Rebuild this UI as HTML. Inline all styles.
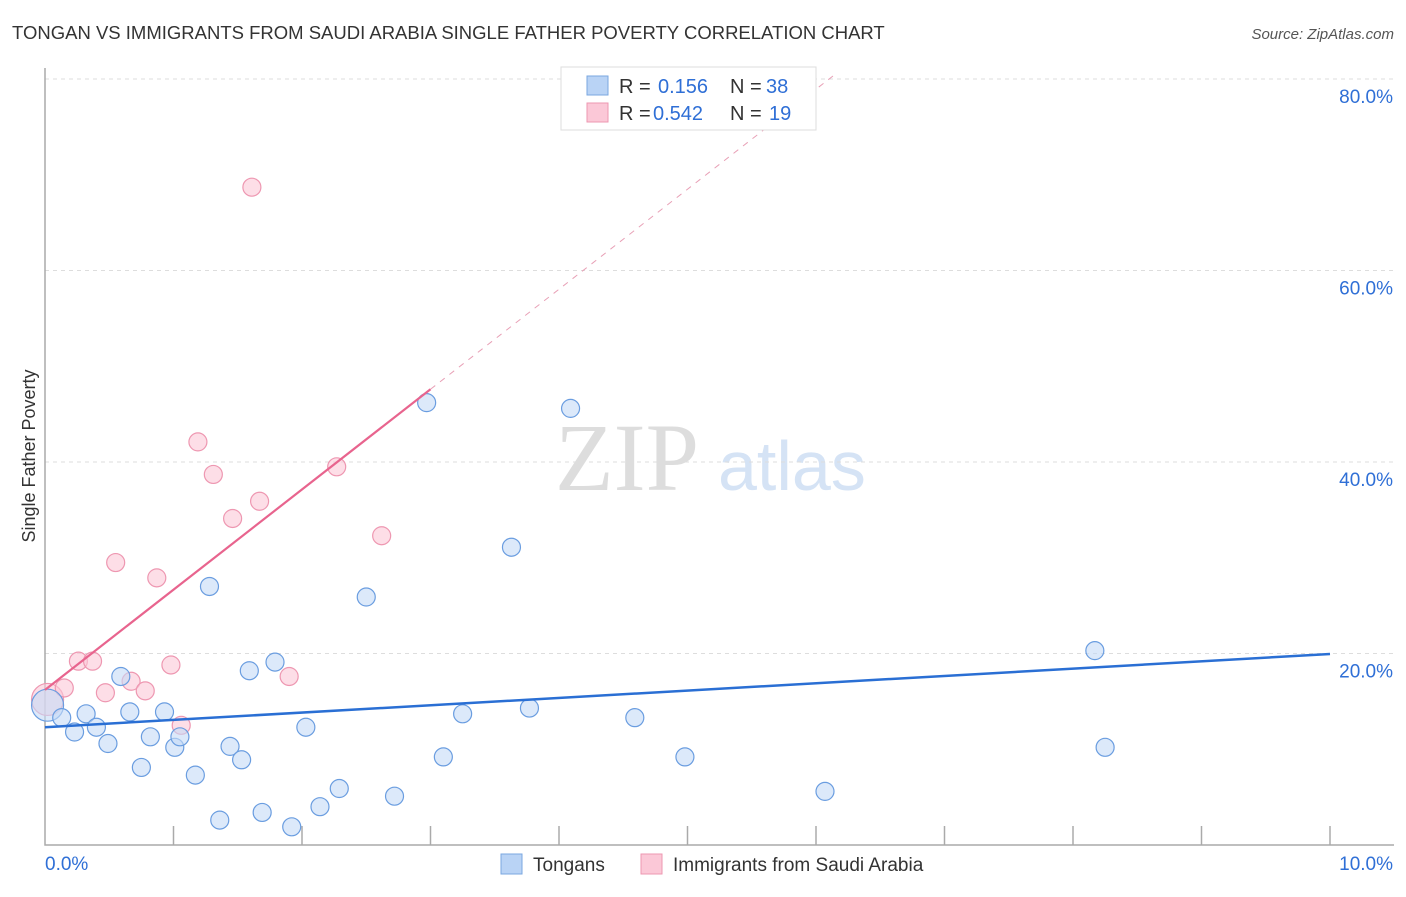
<!DOCTYPE html>
<html><head><meta charset="utf-8"><style>
body{margin:0;background:#fff;font-family:"Liberation Sans",sans-serif}
</style></head><body>
<svg id="c" width="1406" height="892" xmlns="http://www.w3.org/2000/svg">
<text x="12" y="39" font-size="18.5" fill="#333">TONGAN VS IMMIGRANTS FROM SAUDI ARABIA SINGLE FATHER POVERTY CORRELATION CHART</text>
<text x="1394" y="39" font-size="15" fill="#555" font-style="italic" text-anchor="end">Source: ZipAtlas.com</text>
<text x="35" y="456" font-size="18" fill="#333" text-anchor="middle" transform="rotate(-90 35 456)">Single Father Poverty</text>
<text x="555" y="490" font-size="96" fill="#ddd" font-family="Liberation Serif">ZIP</text>
<text x="718" y="490" font-size="70" fill="#d5e3f5">atlas</text>
<g id="grid"></g><g id="marks"></g>
<g>
<rect x="561" y="67" width="255" height="63" fill="#fff" stroke="#ddd"/>
<rect x="587" y="76" width="21" height="19" fill="#b9d3f5" stroke="#7aa7e0"/>
<rect x="587" y="103" width="21" height="19" fill="#fbc8d7" stroke="#ee97b1"/>
<text x="619" y="93" font-size="20" fill="#333">R = </text><text x="658" y="93" font-size="20" fill="#2f6fd6">0.156</text>
<text x="730" y="93" font-size="20" fill="#333">N = </text><text x="766" y="93" font-size="20" fill="#2f6fd6">38</text>
<text x="619" y="120" font-size="20" fill="#333">R = </text><text x="653" y="120" font-size="20" fill="#2f6fd6">0.542</text>
<text x="730" y="120" font-size="20" fill="#333">N = </text><text x="769" y="120" font-size="20" fill="#2f6fd6">19</text>
</g>
<g>
<rect x="501" y="854" width="21" height="20" fill="#b9d3f5" stroke="#7aa7e0"/>
<text x="533" y="871" font-size="19" fill="#333">Tongans</text>
<rect x="641" y="854" width="21" height="20" fill="#fbc8d7" stroke="#ee97b1"/>
<text x="673" y="871" font-size="19" fill="#333">Immigrants from Saudi Arabia</text>
</g>
</svg>
<script>
const blueX=[0.02,0.13,0.23,0.32,0.40,0.49,0.59,0.66,0.75,0.82,0.93,1.01,1.05,1.17,1.28,1.36,1.44,1.53,1.59,1.69,1.79,1.92,2.03,2.14,2.29,2.50,2.72,2.97,3.10,3.25,3.63,3.77,4.09,4.59,4.98,6.07,8.17,8.25];
const blueY=[14.6,13.3,11.8,13.7,12.3,10.6,17.6,13.9,8.1,11.3,13.9,10.2,11.3,7.3,27.0,2.6,10.3,8.9,18.2,3.4,19.1,1.9,12.3,4.0,5.9,25.9,5.1,46.2,9.2,13.7,31.1,14.3,45.6,13.3,9.2,5.6,20.3,10.2];
const pinkX=[0.02,0.15,0.26,0.37,0.47,0.55,0.67,0.78,0.87,0.98,1.06,1.19,1.31,1.46,1.61,1.67,1.90,2.27,2.62];
const pinkY=[15.2,16.4,19.2,19.2,15.9,29.5,17.1,16.1,27.9,18.8,12.5,42.1,38.7,34.1,68.7,35.9,17.6,39.5,32.3];
const xTicks=[0,1,2,3,4,5,6,7,8,9,10];
const yTicks=[20,40,60,80];
const blueTrend=[[0,12.3],[10,19.95]];
const pinkSolid=[[0,16.2],[3,47.6]];
const pinkDash=[[3,47.6],[6.15,80.5]];
const X=v=>45+v*128.5, Y=v=>845-v*9.575;
const ns="http://www.w3.org/2000/svg";
function mk(p,t,a){const e=document.createElementNS(ns,t);for(const k in a)e.setAttribute(k,a[k]);p.appendChild(e);return e;}
const g=document.getElementById('grid'),m=document.getElementById('marks');
yTicks.forEach(v=>{const l=mk(g,'line',{x1:45,x2:1394,y1:Y(v),y2:Y(v),stroke:'#ddd','stroke-dasharray':'4 4'});


const t=mk(g,'text',{x:1393,y:Y(v)+24,'font-size':19,fill:'#2f6fd6','text-anchor':'end'});t.textContent=v.toFixed(1)+'%';

});
const ax=mk(g,'path',{d:'M45 68 V845 H1394',fill:'none',stroke:'#aaa','stroke-width':1.5});


xTicks.forEach(v=>{if(v>0){const l=mk(g,'line',{x1:X(v),x2:X(v),y1:826,y2:845,stroke:'#aaa','stroke-width':1.5});

}});
[[0,'0.0%',45,'start'],[10,'10.0%',1393,'end']].forEach(a=>{const t=mk(g,'text',{x:a[2],y:870,'font-size':19,fill:'#2f6fd6','text-anchor':a[3]});t.textContent=a[1];

});
function dot(x,y,big,f,s,nm){const c=mk(m,'circle',{cx:X(x),cy:Y(y),r:big?16:9,fill:f,'fill-opacity':0.6,stroke:s,'stroke-width':1.2});

}
pinkX.forEach((x,i)=>dot(x,pinkY[i],i==0,'#fbc8d7','#ee97b1','immigrant-point'));
blueX.forEach((x,i)=>dot(x,blueY[i],i==0,'#c4daf6','#6a9de0','tongan-point'));
function ln(p,st,w,d,nm){const l=mk(m,'line',{x1:X(p[0][0]),y1:Y(p[0][1]),x2:X(p[1][0]),y2:Y(p[1][1]),stroke:st,'stroke-width':w});if(d)l.setAttribute('stroke-dasharray',d);

}
ln(blueTrend,'#2a6fd4',2.5,null,'tongan-trendline');
ln(pinkSolid,'#e8648e',2.2,null,'immigrant-trendline');
ln(pinkDash,'#e8a0b6',1,'6 6','immigrant-trendline-extension');
</script>
</body></html>
